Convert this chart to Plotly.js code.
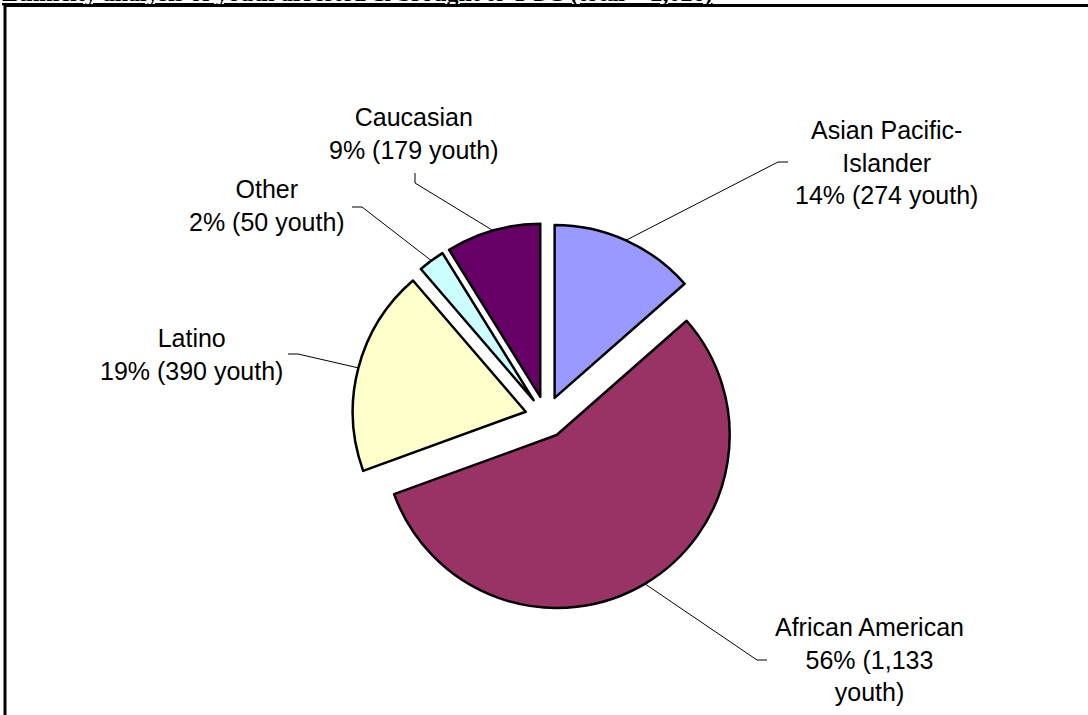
<!DOCTYPE html>
<html>
<head>
<meta charset="utf-8">
<script src="https://cdn.plot.ly/plotly-3.0.1.min.js"></script>
<style>html,body{margin:0;padding:0;background:#fff;}#chart{width:1088px;height:715px;}</style>
</head>
<body>
<div id="chart"></div>
<script>
// ---- data ----
const categories = ['Asian Pacific-Islander', 'African American', 'Latino', 'Other', 'Caucasian'];
const youthCounts = [274, 1133, 390, 50, 179];
const percentLabels = ['14%', '56%', '19%', '2%', '9%'];
const labelTexts = [
  'Asian Pacific-<br>Islander<br>14% (274 youth)',
  'African American<br>56% (1,133<br>youth)',
  'Latino<br>19% (390 youth)',
  'Other<br>2% (50 youth)',
  'Caucasian<br>9% (179 youth)'
];
const sliceColors = ['#9999FF', '#993366', '#FFFFCC', '#CCFFFF', '#660066'];
const titleText = 'Ethnicity analysis of youth arrested &amp; brought to YGC (total = 2,026)';

// ---- layout constants (pixels) ----
const W = 1088, H = 715;
const CX = 546, CY = 417, R = 173, PULL = 0.121;
// label block centres and leader-line elbows
const labelPos = [[886, 162], [869, 659], [191, 354], [267, 206], [414, 134]];
const leaderStart = [[788, 162], [767, 660], [288, 354], [352, 207], [415, 173]];
const leaderElbow = [[778, 162], [757, 660], [298, 354], [362, 207], [415, 183]];

const px = p => p / W;
const py = p => 1 - p / H;
const half = R * (1 + PULL);

// leader-line tips from the data (mid-angle of each slice, clockwise from 12 o'clock)
const total = youthCounts.reduce((a, b) => a + b, 0);
let cum = 0;
const tips = youthCounts.map(v => {
  const mid = (cum + v / 2) / total * 2 * Math.PI;
  cum += v;
  const d = R * (1 + PULL);
  return [CX + d * Math.sin(mid), CY - d * Math.cos(mid)];
});

const trace = {
  type: 'pie',
  labels: categories,
  values: youthCounts,
  sort: false,
  direction: 'clockwise',
  rotation: 0,
  pull: youthCounts.map(() => PULL),
  marker: { colors: sliceColors, line: { color: '#000000', width: 2.5 } },
  textinfo: 'none',
  hoverinfo: 'label+value+percent',
  showlegend: false,
  domain: {
    x: [px(CX - half), px(CX + half)],
    y: [py(CY + half), py(CY - half)]
  }
};

const labelFont = { family: 'Liberation Sans, Arial, sans-serif', size: 25, color: '#000000' };

const annotations = labelTexts.map((t, i) => ({
  xref: 'paper', yref: 'paper',
  x: px(labelPos[i][0]), y: py(labelPos[i][1]),
  xanchor: 'center', yanchor: 'middle',
  text: t, showarrow: false, align: 'center',
  font: labelFont
}));
annotations.push({
  xref: 'paper', yref: 'paper',
  x: 0, y: py(8), xanchor: 'left', yanchor: 'bottom',
  text: '<b><u>' + titleText + '</u></b>',
  showarrow: false,
  font: { family: 'Liberation Serif, Times New Roman, serif', size: 24, color: '#000000' }
});

const shapes = tips.map((tp, i) => ({
  type: 'path', xref: 'paper', yref: 'paper',
  path: 'M ' + px(leaderStart[i][0]) + ',' + py(leaderStart[i][1]) +
        ' L ' + px(leaderElbow[i][0]) + ',' + py(leaderElbow[i][1]) +
        ' L ' + px(tp[0]) + ',' + py(tp[1]),
  line: { color: '#000000', width: 1 }
}));
shapes.push({
  type: 'rect', xref: 'paper', yref: 'paper',
  x0: px(5), x1: px(W + 20), y0: py(H + 20), y1: py(5.5),
  line: { color: '#000000', width: 3 }, fillcolor: 'rgba(0,0,0,0)'
});

const layout = {
  width: W, height: H,
  margin: { l: 0, r: 0, t: 0, b: 0, pad: 0 },
  paper_bgcolor: '#ffffff',
  plot_bgcolor: '#ffffff',
  showlegend: false,
  annotations: annotations,
  shapes: shapes
};

Plotly.newPlot('chart', [trace], layout, { displayModeBar: false, staticPlot: true });
</script>
</body>
</html>
